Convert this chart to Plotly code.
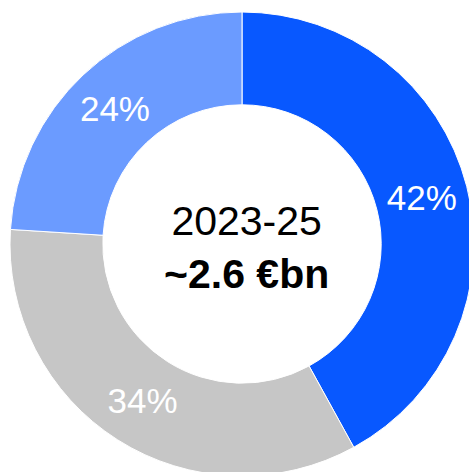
import plotly.graph_objects as go

# Share of total spend by segment, 2023-25
segments = ["Segment A", "Segment B", "Segment C"]
shares = [42, 34, 24]
colors = ["#0858FF", "#C6C6C6", "#6B9BFF"]
center_title = "2023-25"
center_total = "~2.6 €bn"

W, H = 486, 490
cx, cy, r = 242, 244, 232

fig = go.Figure(
    go.Pie(
        labels=segments,
        values=shares,
        hole=0.60,
        sort=False,
        direction="clockwise",
        rotation=0,
        marker=dict(colors=colors, line=dict(color="white", width=1)),
        textinfo="percent",
        textposition="inside",
        insidetextorientation="horizontal",
        textfont=dict(family="Liberation Sans, Arial, sans-serif", size=35, color="white"),
        hoverinfo="label+percent",
        domain=dict(
            x=[(cx - r) / W, (cx + r) / W],
            y=[1 - (cy + r) / H, 1 - (cy - r) / H],
        ),
        showlegend=False,
    )
)

fig.add_annotation(
    x=247 / W,
    y=1 - 247 / H,
    xref="paper",
    yref="paper",
    text=f"{center_title}<br><b>{center_total}</b>",
    showarrow=False,
    font=dict(family="Liberation Sans, Arial, sans-serif", size=41, color="black"),
    xanchor="center",
    yanchor="middle",
)

fig.update_layout(
    width=W,
    height=H,
    margin=dict(l=0, r=0, t=0, b=0),
    paper_bgcolor="white",
    plot_bgcolor="white",
    uniformtext=dict(minsize=10, mode="show"),
)

fig.write_html(
    "out.html",
    post_script="document.body.style.overflow='hidden';document.documentElement.style.overflow='hidden';document.body.style.margin='0';",
)
